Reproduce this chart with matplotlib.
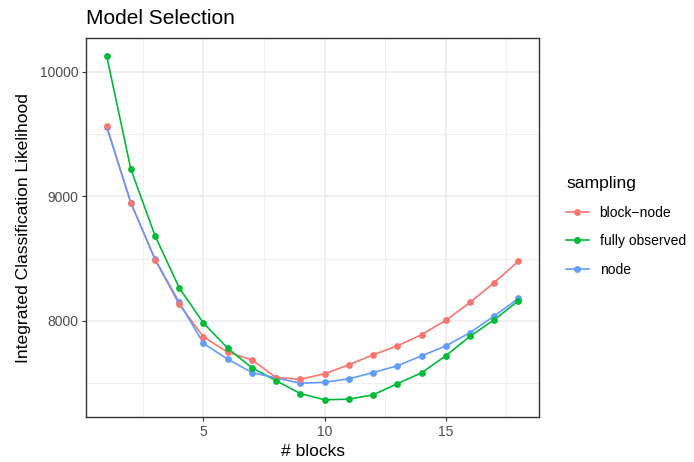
import matplotlib
matplotlib.use("Agg")
import matplotlib.pyplot as plt
from matplotlib.lines import Line2D

blocks = list(range(1, 19))
block_node = [9566, 8950, 8491, 8131, 7870, 7747, 7686, 7544, 7530, 7574, 7646, 7726, 7798, 7888, 8003, 8147, 8307, 8478]
fully_observed = [10131, 9219, 8683, 8264, 7982, 7779, 7622, 7518, 7415, 7365, 7370, 7405, 7494, 7582, 7718, 7875, 8008, 8160]
node = [9560, 8948, 8495, 8147, 7818, 7691, 7584, 7540, 7498, 7506, 7533, 7584, 7638, 7718, 7798, 7904, 8038, 8179]

series = [("block\u2212node", block_node, "#F8766D"),
          ("fully observed", fully_observed, "#00BA38"),
          ("node", node, "#619CFF")]

x_ticks = [5, 10, 15]
x_labels = ["5", "10", "15"]
y_ticks = [8000, 9000, 10000]
y_labels = ["8000", "9000", "10000"]

plt.rcParams['font.family'] = ['Liberation Sans', 'DejaVu Sans']

fig = plt.figure(figsize=(6.94, 4.62), dpi=100)
ax = fig.add_axes([0.1239, 0.0974, 0.7767 - 0.1239, 0.917 - 0.0974])

for name, vals, col in series:
    ax.plot(blocks, vals, color=col, lw=1.2, zorder=3)
order = [2, 0, 1]
for i in order:
    name, vals, col = series[i]
    ax.scatter(blocks, vals, color=col, s=24, zorder=4, linewidths=0)

xmin, xmax = min(blocks), max(blocks)
allv = block_node + fully_observed + node
ymin, ymax = min(allv), max(allv)
ax.set_xlim(xmin - 0.05 * (xmax - xmin), xmax + 0.05 * (xmax - xmin))
ax.set_ylim(ymin - 0.05 * (ymax - ymin), ymax + 0.05 * (ymax - ymin))

ax.set_xticks(x_ticks, labels=x_labels)
ax.set_xticks([2.5, 7.5, 12.5, 17.5], minor=True)
ax.set_yticks(y_ticks, labels=y_labels)
ax.set_yticks([7500, 8500, 9500], minor=True)
ax.grid(True, which='major', color='#EBEBEB', lw=1.1, zorder=0)
ax.grid(True, which='minor', color='#EBEBEB', lw=0.55, zorder=0)
ax.set_axisbelow(True)
ax.tick_params(which='major', length=3, color='#333333', width=0.8, labelsize=10, labelcolor='#4D4D4D', pad=2.5)
ax.tick_params(which='minor', length=0)
for s in ax.spines.values():
    s.set_color('#333333')
    s.set_linewidth(1.0)

ax.set_xlabel('# blocks', fontsize=12.6, labelpad=4)
ax.set_ylabel('Integrated Classification Likelihood', fontsize=12.6, labelpad=6)
ax.set_title('Model Selection', fontsize=15, loc='left', pad=10.5)

handles = [Line2D([0], [0], color=col, lw=1.2, marker='o', markersize=5, markeredgewidth=0)
           for name, vals, col in series]
labels = [name for name, vals, col in series]
leg = fig.legend(handles, labels, title='sampling', loc='center left',
                 bbox_to_anchor=(0.798, 0.51), frameon=False, fontsize=10,
                 title_fontsize=12.6, handlelength=1.6, labelspacing=1.05,
                 handletextpad=0.8)
leg._legend_box.align = 'left'

fig.savefig('out.png', dpi=100)
